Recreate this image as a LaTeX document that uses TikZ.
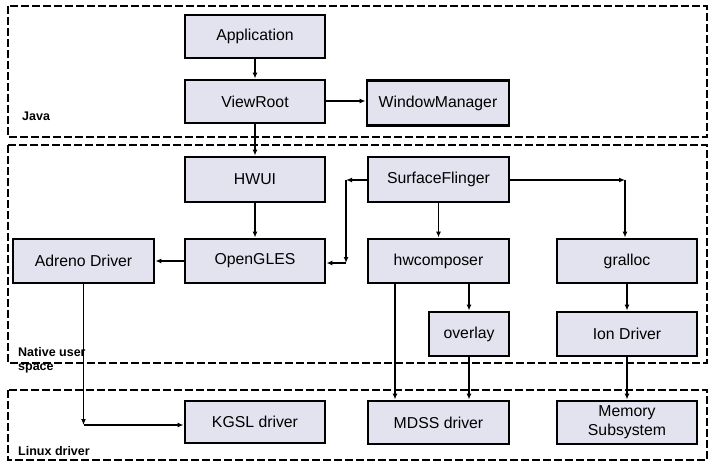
\documentclass[tikz,border=0pt]{standalone}
\usepackage{fontspec}
\setmainfont{Liberation Sans}
\usepackage{tikz}
\usetikzlibrary{arrows.meta}
\definecolor{boxfill}{HTML}{E2E3EF}

\begin{document}
\begin{tikzpicture}
  [x=1pt, y=-1pt,
   blk/.style={draw, line width=2.9pt, fill=boxfill, minimum width=140pt, minimum height=43pt,
               inner sep=0pt, align=center, font=\fontsize{15.8}{17}\selectfont},
   frame/.style={draw, line width=2.8pt, dash pattern=on 8pt off 3pt},
   lbl/.style={anchor=west, inner sep=0pt, align=left, font=\fontsize{12.5}{15}\selectfont\bfseries},
   conn/.style={line width=1.3pt, -{Latex[length=6pt,width=5pt]}}]

  \useasboundingbox (0,0) rectangle (722,473);

  %Draw the three layers
  \draw[frame] (8,6) rectangle (707,137);
  \draw[frame] (8,145) rectangle (707,363);
  \draw[frame] (8,390) rectangle (707,460);
  \node[lbl] (java) at (22,116) {Java};
  \node[lbl] (native) at (18,360) {Native user\\[-1pt]space};
  \node[lbl] (linux) at (18,451) {Linux driver};

  %Draw the blocks
  \node[blk] (app) at (255,36.5) {Application};
  \node[blk] (viewroot) at (255,101.5) {ViewRoot};
  \node[blk, minimum width=142pt, minimum height=45pt] (wm) at (438,103) {WindowManager};
  \node[blk, minimum height=45pt] (hwui) at (255,179.5) {HWUI};
  \node[blk, minimum height=44pt] (opengles) at (255,261) {OpenGLES};
  \node[blk, minimum width=141pt, minimum height=44pt] (adreno) at (83.5,261) {Adreno Driver};
  \node[blk, minimum width=141pt, minimum height=45pt] (sf) at (438.5,179.5) {SurfaceFlinger};
  \node[blk, minimum width=141pt, minimum height=44pt] (hwc) at (438.5,261) {hwcomposer};
  \node[blk, minimum height=44pt] (gralloc) at (627,261) {gralloc};
  \node[blk, minimum width=80pt, minimum height=44pt] (overlay) at (469,334) {overlay};
  \node[blk, minimum height=44pt] (ion) at (627,334) {Ion Driver};
  \node[blk, minimum height=42pt] (kgsl) at (255,422) {KGSL driver};
  \node[blk, minimum width=141pt] (mdss) at (438.5,422.5) {MDSS driver};
  \node[blk] (mem) at (627,422.5) {Memory\\[2pt]Subsystem};

  %Corners of the bent connectors
  \coordinate (vw) at (0,101);
  \coordinate (sfl) at (346,180);
  \coordinate (sfd) at (346,263);
  \coordinate (sfr) at (625,180);
  \coordinate (adk) at (83.5,425);
  \coordinate (hwx) at (395,0);

  %Draw the connectors
  \draw[conn] (app) -- (viewroot);
  \draw[conn] (viewroot.east |- vw) -- (wm.west |- vw);
  \draw[conn] (viewroot) -- (hwui);
  \draw[conn] (hwui) -- (opengles);
  \draw[conn] (opengles) -- (adreno);
  \draw[conn] (sf.west |- sfl) -- (sfl);
  \draw[conn] (sfl) -- (sfd);
  \draw[conn] (sfd) -- (opengles.east |- sfd);
  \draw[conn] (sf) -- (hwc);
  \draw[conn] (sf.east |- sfr) -- (sfr);
  \draw[conn] (sfr) -- (sfr |- gralloc.north);
  \draw[conn] (gralloc) -- (ion);
  \draw[conn] (ion) -- (mem);
  \draw[conn] (overlay.north |- hwc.south) -- (overlay);
  \draw[conn] (overlay) -- (mdss.north -| overlay);
  \draw[conn] (hwx |- hwc.south) -- (hwx |- mdss.north);
  \draw[conn] (adreno) -- (adk);
  \draw[conn] (adk) -- (kgsl.west |- adk);
\end{tikzpicture}
\end{document}
